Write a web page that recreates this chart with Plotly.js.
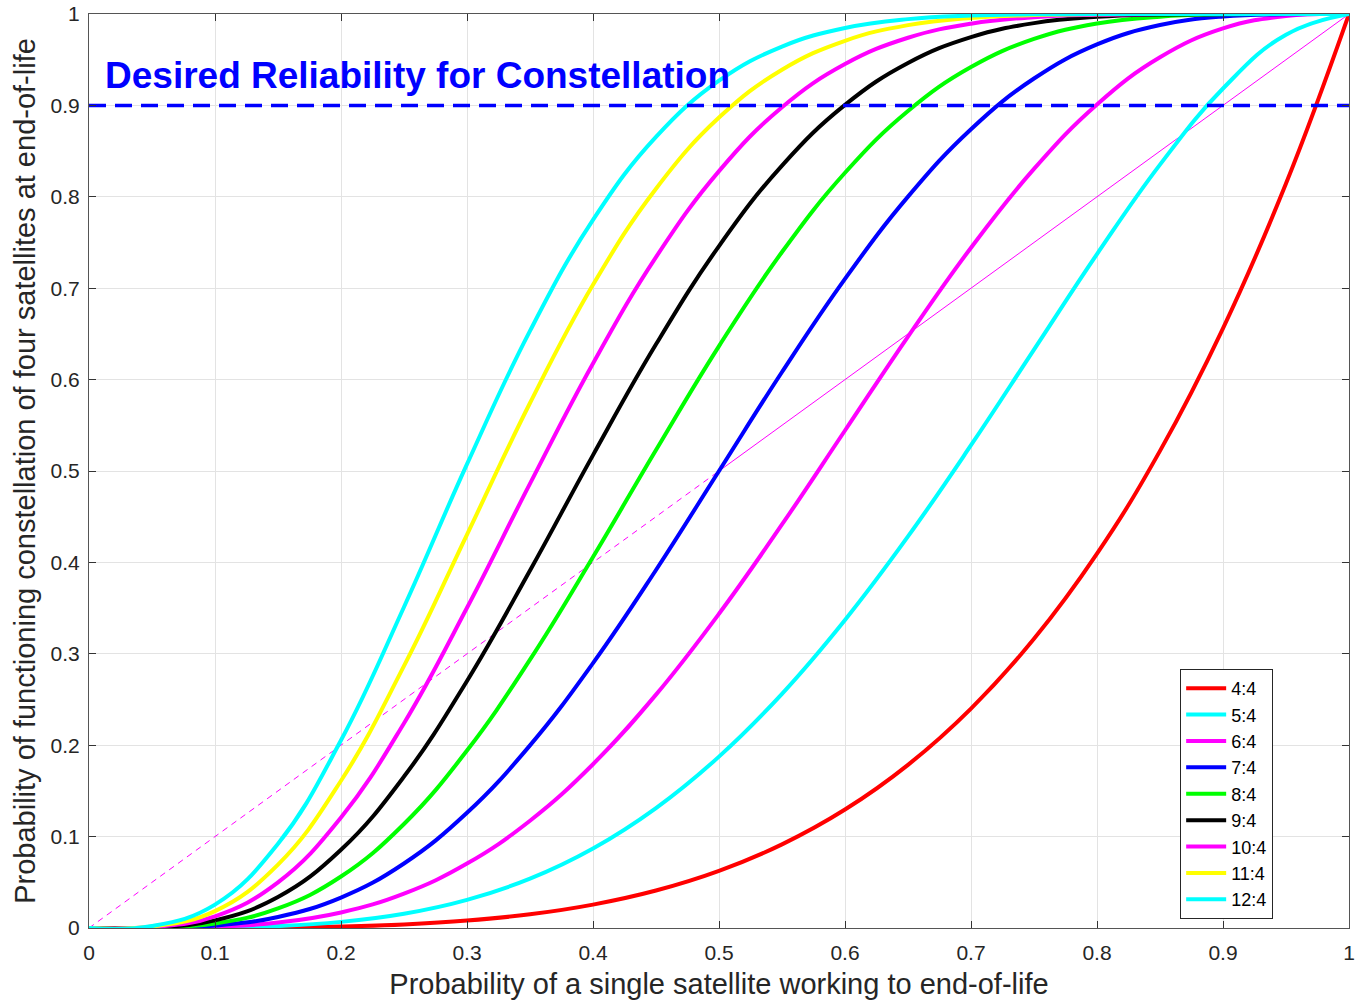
<!DOCTYPE html>
<html>
<head>
<meta charset="utf-8">
<script src="https://cdn.plot.ly/plotly-3.0.1.min.js"></script>
<style>html,body{margin:0;padding:0;background:#fff;}#chart{width:1356px;height:1002px;}</style>
</head>
<body>
<div id="chart"></div>
<script>
// Probability of a single satellite working to end-of-life (x)
const pSingle = [0,0.05,0.1,0.15,0.2,0.25,0.3,0.35,0.4,0.45,0.5,0.55,0.6,0.65,0.7,0.75,0.8,0.85,0.9,0.95,1];

// Probability of a functioning constellation of four satellites, per configuration
const r4_4  = [0,0.00001,0.0001,0.0005,0.0016,0.0039,0.0081,0.0150,0.0256,0.0410,0.0625,0.0915,0.1296,0.1785,0.2401,0.3164,0.4096,0.5220,0.6561,0.8145,1];
const r5_4  = [0,0.00003,0.0005,0.0022,0.0067,0.0156,0.0308,0.0540,0.0870,0.1312,0.1875,0.2562,0.3370,0.4284,0.5282,0.6328,0.7373,0.8352,0.9185,0.9774,1];
const r6_4  = [0,0.00009,0.0013,0.0059,0.0170,0.0376,0.0705,0.1174,0.1792,0.2553,0.3438,0.4415,0.5443,0.6471,0.7443,0.8306,0.9011,0.9527,0.9842,0.9978,1];
const r7_4  = [0,0.0002,0.0027,0.0121,0.0333,0.0706,0.1260,0.1998,0.2898,0.3917,0.5000,0.6083,0.7102,0.8002,0.8740,0.9294,0.9667,0.9879,0.9973,0.9998,1];
const r8_4  = [0,0.0004,0.0050,0.0214,0.0563,0.1138,0.1941,0.2936,0.4059,0.5230,0.6367,0.7396,0.8263,0.8939,0.9420,0.9727,0.9896,0.9971,0.9996,1,1];
const r9_4  = [0,0.0006,0.0083,0.0339,0.0856,0.1657,0.2703,0.3911,0.5174,0.6386,0.7461,0.8342,0.9006,0.9464,0.9747,0.9900,0.9969,0.9994,0.9999,1,1];
const r10_4 = [0,0.0010,0.0128,0.0500,0.1209,0.2241,0.3504,0.4862,0.6177,0.7340,0.8281,0.8980,0.9452,0.9740,0.9894,0.9965,0.9991,0.9999,1,1,1];
const r11_4 = [0,0.0016,0.0185,0.0694,0.1611,0.2867,0.4304,0.5744,0.7037,0.8089,0.8867,0.9390,0.9707,0.9878,0.9957,0.9988,0.9998,1,1,1,1];
const r12_4 = [0,0.0022,0.0256,0.0922,0.2054,0.3512,0.5075,0.6533,0.7747,0.8655,0.9270,0.9644,0.9847,0.9944,0.9983,0.9996,0.9999,1,1,1,1];

const seriesNames = ['4:4','5:4','6:4','7:4','8:4','9:4','10:4','11:4','12:4'];
const seriesData  = [r4_4,r5_4,r6_4,r7_4,r8_4,r9_4,r10_4,r11_4,r12_4];
const seriesColors = ['#ff0000','#00ffff','#ff00ff','#0000ff','#00ff00','#000000','#ff00ff','#ffff00','#00ffff'];

// Reference lines
const diagLowX = [0,0.5], diagLowY = [0,0.5];
const diagHighX = [0.5,1], diagHighY = [0.5,1];
const desiredX = [0,1], desiredY = [0.9,0.9];
const desiredLabel = 'Desired Reliability for Constellation';

const FONT = 'Liberation Sans, Arial, Helvetica, sans-serif';

const traces = [];
traces.push({x: diagLowX, y: diagLowY, mode:'lines', line:{color:'#ff00ff', width:1, dash:'6px,5px'}, showlegend:false, hoverinfo:'skip'});
traces.push({x: diagHighX, y: diagHighY, mode:'lines', line:{color:'#ff00ff', width:1}, showlegend:false, hoverinfo:'skip'});
seriesNames.forEach((n,i) => {
  traces.push({x: pSingle, y: seriesData[i], name: n, mode:'lines',
    line:{color: seriesColors[i], width:4, shape:'spline', smoothing:1.2}});
});
traces.push({x: desiredX, y: desiredY, mode:'lines', line:{color:'#0000ff', width:3.5, dash:'17px,9px'}, showlegend:false, hoverinfo:'skip'});

const axisCommon = {
  range:[0,1], dtick:0.1, tick0:0, showgrid:true, gridcolor:'#e3e3e3', gridwidth:1,
  zeroline:false, showline:true, linecolor:'#555', linewidth:1, mirror:'ticks',
  ticks:'inside', ticklen:7, tickcolor:'#333', tickwidth:1,
  ticklabeloverflow:'allow',
  tickfont:{family:FONT, size:21, color:'#262626'}
};

const layout = {
  width:1356, height:1002,
  margin:{l:89, r:7, t:14, b:74},
  paper_bgcolor:'#fff', plot_bgcolor:'#fff',
  font:{family:FONT, color:'#262626'},
  xaxis: Object.assign({}, axisCommon, {
    ticklabelstandoff:6,
    title:{text:'Probability of a single satellite working to end-of-life', font:{family:FONT, size:29, color:'#262626'}, standoff:10}
  }),
  yaxis: Object.assign({}, axisCommon, {
    ticklabelstandoff:4,
    title:{text:'Probability of functioning constellation of four satellites at end-of-life', font:{family:FONT, size:29, color:'#262626'}, standoff:6}
  }),
  legend:{x:0.866, y:0.2834, xanchor:'left', yanchor:'top', bgcolor:'#fff', bordercolor:'#262626', borderwidth:1,
    font:{family:FONT, size:18, color:'#000'}, tracegroupgap:0, itemwidth:40},
  annotations:[{x:0.011, y:0.933, xref:'x', yref:'y', xanchor:'left', yanchor:'middle', showarrow:false,
    text:'<b>'+desiredLabel+'</b>', font:{family:FONT, size:37, color:'#0000ff'}}],
  showlegend:true
};

Plotly.newPlot('chart', traces, layout, {displayModeBar:false, staticPlot:true});
</script>
</body>
</html>
